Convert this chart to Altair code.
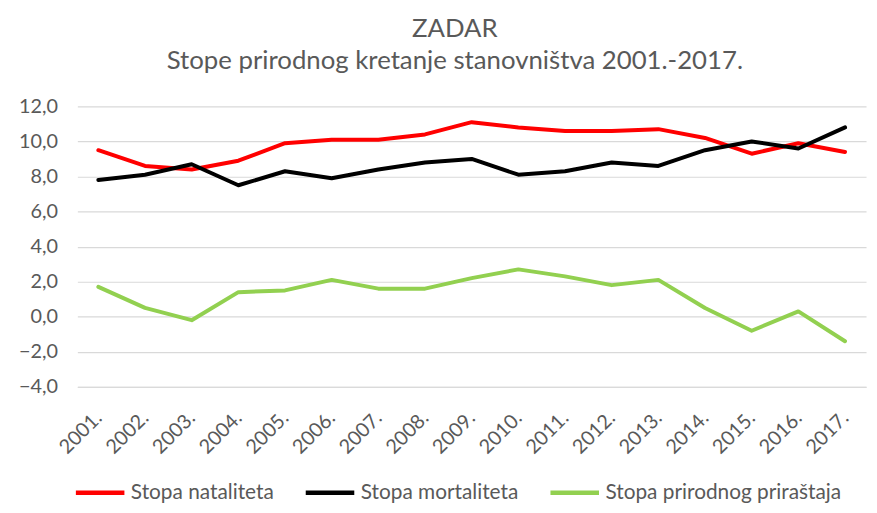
import altair as alt
import pandas as pd

years = ["2001.", "2002.", "2003.", "2004.", "2005.", "2006.", "2007.", "2008.", "2009.",
         "2010.", "2011.", "2012.", "2013.", "2014.", "2015.", "2016.", "2017."]
natalitet = [9.5, 8.6, 8.4, 8.9, 9.9, 10.1, 10.1, 10.4, 11.1, 10.8, 10.6, 10.6, 10.7, 10.2, 9.3, 9.9, 9.4]
mortalitet = [7.8, 8.1, 8.7, 7.5, 8.3, 7.9, 8.4, 8.8, 9.0, 8.1, 8.3, 8.8, 8.6, 9.5, 10.0, 9.6, 10.8]
prirastaj = [1.7, 0.5, -0.2, 1.4, 1.5, 2.1, 1.6, 1.6, 2.2, 2.7, 2.3, 1.8, 2.1, 0.5, -0.8, 0.3, -1.4]

series_names = ["Stopa nataliteta", "Stopa mortaliteta", "Stopa prirodnog priraštaja"]
series_colors = ["#FF0000", "#000000", "#92D050"]
y_ticks = [-4, -2, 0, 2, 4, 6, 8, 10, 12]

rows = []
for name, vals in zip(series_names, [natalitet, mortalitet, prirastaj]):
    for yr, v in zip(years, vals):
        rows.append({"Godina": yr, "Serija": name, "Vrijednost": v, "ord": series_names.index(name)})
df = pd.DataFrame(rows)

FONT = "Lato"
TXT = "#595959"

chart = alt.Chart(df).mark_line(strokeWidth=4, strokeCap="round", strokeJoin="round").encode(
    x=alt.X("Godina:N", sort=years, title=None,
            scale=alt.Scale(type="point", padding=0.45),
            axis=alt.Axis(labelAngle=-45, labelAlign="right", labelBaseline="middle",
                          labelPadding=28, ticks=False, grid=False,
                          domainColor="#D9D9D9", domainWidth=1,
                          labelFontSize=20, labelColor=TXT, labelFont=FONT)),
    y=alt.Y("Vrijednost:Q", title=None,
            scale=alt.Scale(domain=[-4, 12], nice=False, zero=False),
            axis=alt.Axis(values=y_ticks, ticks=False, domain=False,
                          labelExpr="replace(format(datum.value, '.1f'), '.', ',')",
                          labelPadding=20, labelFontSize=20, labelColor=TXT, labelFont=FONT,
                          gridColor="#D9D9D9", gridWidth=1.2)),
    color=alt.Color("Serija:N", sort=series_names,
                    scale=alt.Scale(domain=series_names, range=series_colors),
                    legend=alt.Legend(orient="none", legendX=-4, legendY=363,
                                      direction="horizontal", title=None,
                                      symbolType="stroke", symbolSize=2400,
                                      symbolStrokeWidth=4.5, labelFontSize=21,
                                      labelLimit=400,
                                      labelColor=TXT, labelFont=FONT, labelOffset=4,
                                      columnPadding=22)),
    order="ord:Q",
).properties(
    width=796,
    height=283,
    title=alt.TitleParams(text=["ZADAR", "Stope prirodnog kretanje stanovništva 2001.-2017."],
                          fontSize=26, font=FONT, fontWeight="normal", color=TXT,
                          lineHeight=32.5, anchor="middle", offset=23, dx=-17),
    autosize=alt.AutoSizeParams(type="none"),
    padding={"left": 70, "top": 97, "right": 3, "bottom": 117},
).configure_view(stroke=None)

chart.save("out.html", embed_options={"renderer": "svg", "actions": False})
